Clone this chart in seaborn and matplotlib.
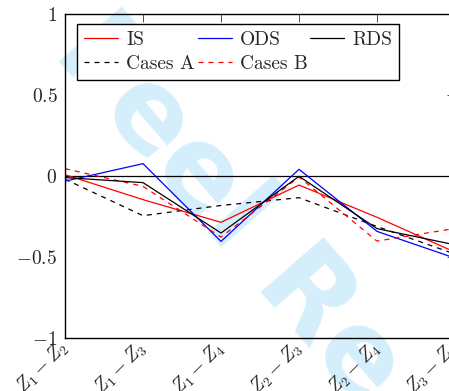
import numpy as np
import pandas as pd
import matplotlib
matplotlib.use("Agg")
import matplotlib.pyplot as plt
from matplotlib.ticker import FuncFormatter
import seaborn as sns

# ---- data ----
categories = ["$Z_1 - Z_2$", "$Z_1 - Z_3$", "$Z_1 - Z_4$",
              "$Z_2 - Z_3$", "$Z_2 - Z_4$", "$Z_3 - Z_4$"]
is_vals = [0.010, -0.144, -0.284, -0.054, -0.253, -0.468]
ods_vals = [-0.030, 0.078, -0.402, 0.043, -0.340, -0.505]
rds_vals = [-0.008, -0.039, -0.350, 0.000, -0.323, -0.423]
cases_a = [-0.018, -0.243, -0.180, -0.132, -0.310, -0.480]
cases_b = [0.047, -0.062, -0.375, -0.004, -0.400, -0.322]
yticks = [-1, -0.5, 0, 0.5, 1]

sns.set_style("white")
plt.rcParams["font.family"] = ["cmr10"]
plt.rcParams["mathtext.fontset"] = "cm"
plt.rcParams["axes.formatter.use_mathtext"] = True
plt.rcParams["font.size"] = 14

W, H = 449, 391
fig = plt.figure(figsize=(W / 100, H / 100), dpi=100)
fig.patch.set_facecolor("white")

# watermark behind everything
fig.text(230 / W, 1 - 210 / H, "Feel Re", rotation=-49, rotation_mode="anchor",
         ha="center", va="center", fontsize=82, fontweight="bold",
         family="DejaVu Sans", color="#d4effb", zorder=-1)

ax = fig.add_axes([65 / W, 52.7 / H, 390 / W, 324 / H])
ax.set_facecolor("none")

x = np.arange(len(categories))
series = [
    ("IS", is_vals, "#ff0000", "-"),
    ("Cases A", cases_a, "black", (0, (4, 4))),
    ("ODS", ods_vals, "#0000ff", "-"),
    ("Cases B", cases_b, "#ff0000", (0, (4, 4))),
    ("RDS", rds_vals, "black", "-"),
]
ax.axhline(0, color="black", lw=0.9, zorder=1)
for name, vals, col, ls in series:
    df = pd.DataFrame({"x": x, "y": vals})
    sns.lineplot(data=df, x="x", y="y", ax=ax, color=col, linestyle=ls,
                 lw=0.9, label=name, zorder=2)

ax.set_xlim(0, len(categories) - 1)
ax.set_ylim(-1, 1)
ax.set_xlabel("")
ax.set_ylabel("")
ax.set_xticks(x)
ax.set_xticklabels(categories, rotation=45, ha="right", va="center",
                   rotation_mode="anchor", fontsize=14)
ax.set_yticks(yticks)
ax.yaxis.set_major_formatter(FuncFormatter(lambda v, p: f"${v:g}$"))
ax.tick_params(axis="both", direction="in", length=5.8, width=0.6,
               top=True, right=True, labelsize=14, color="#333333")
ax.tick_params(axis="y", pad=5.5)
ax.tick_params(axis="x", pad=5)
for s in ax.spines.values():
    s.set_linewidth(1.0)
    s.set_color("black")

leg = ax.legend(ncol=3, loc="upper left", bbox_to_anchor=(12 / 390, (338.3 - 24) / 324),
                borderaxespad=0, frameon=True, fancybox=False, edgecolor="black",
                facecolor="white", framealpha=1, handlelength=1.75,
                handletextpad=0.41, columnspacing=0.15, borderpad=0.36,
                labelspacing=0.3, fontsize=14)
leg.get_frame().set_linewidth(1.0)

fig.savefig("out.png", dpi=100)
